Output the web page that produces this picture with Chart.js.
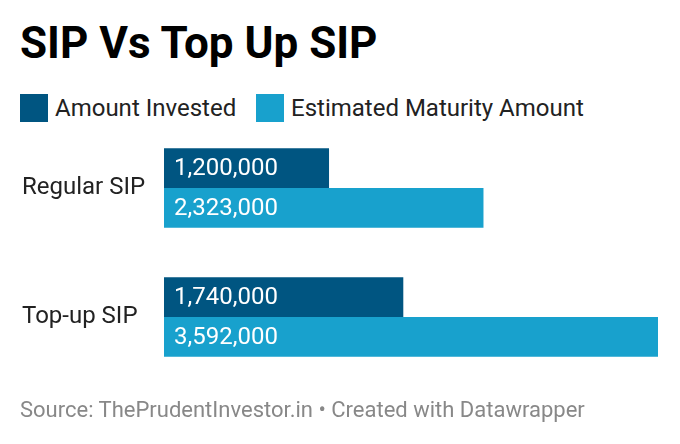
<!DOCTYPE html>
<html>
<head>
<meta charset="utf-8">
<script src="https://cdn.jsdelivr.net/npm/chart.js@4"></script>
<style>
  html, body { margin: 0; padding: 0; background: #fff; }
  body { width: 680px; height: 444px; position: relative; overflow: hidden; font-family: Roboto, sans-serif; }
  #title { position: absolute; left: 20px; top: 17px; font-size: 44px; font-weight: 700; color: #000; line-height: 52px; }
  .legend { position: absolute; top: 94px; display: flex; align-items: center; font-size: 24px; color: #222; line-height: 28px; }
  .legend span.box { width: 28px; height: 28px; display: inline-block; margin-right: 7px; }
  #footer { position: absolute; left: 20px; top: 396px; font-size: 22px; color: #888; line-height: 28px; }
  #wrap { position: absolute; left: 0; top: 106px; width: 680px; height: 293px; }
</style>
</head>
<body>
<div id="title">SIP Vs Top Up SIP</div>
<div class="legend" style="left:20px"><span class="box" style="background:#005581"></span>Amount Invested</div>
<div class="legend" style="left:256px"><span class="box" style="background:#18a1cd"></span>Estimated Maturity Amount</div>
<div id="wrap"><canvas id="chart"></canvas></div>
<div id="footer">Source: ThePrudentInvestor.in • Created with Datawrapper</div>
<script>
const categories = ['Regular SIP', 'Top-up SIP'];
const amountInvested = [1200000, 1740000];
const maturityAmount = [2323000, 3592000];
const seriesNames = ['Amount Invested', 'Estimated Maturity Amount'];
const colors = ['#005581', '#18a1cd'];

const fmt = v => v.toLocaleString('en-US');

// write the values inside the bars, left aligned
const barLabels = {
    id: 'barLabels',
    afterDatasetsDraw(chart) {
        const ctx = chart.ctx;
        ctx.save();
        ctx.fillStyle = '#fff';
        ctx.font = '24px Roboto';
        ctx.textAlign = 'left';
        ctx.textBaseline = 'middle';
        chart.data.datasets.forEach((ds, i) => {
            chart.getDatasetMeta(i).data.forEach((bar, j) => {
                ctx.fillText(fmt(ds.data[j]), bar.base + 10, bar.y + 1);
            });
        });
        ctx.restore();
    }
};

new Chart(document.getElementById('chart'), {
    type: 'bar',
    data: {
        labels: categories,
        datasets: [
            { label: seriesNames[0], data: amountInvested, backgroundColor: colors[0] },
            { label: seriesNames[1], data: maturityAmount, backgroundColor: colors[1] }
        ]
    },
    options: {
        indexAxis: 'y',
        responsive: true,
        maintainAspectRatio: false,
        animation: false,
        layout: { padding: { left: 22, right: 22, top: 0, bottom: 0 } },
        datasets: { bar: { categoryPercentage: 80 / 130, barPercentage: 1 } },
        plugins: { legend: { display: false }, tooltip: { enabled: false } },
        scales: {
            x: { display: false, min: 0, max: 3592000 },
            y: {
                grid: { display: false },
                border: { display: false },
                afterFit: scale => { scale.width = 142; },
                ticks: { crossAlign: 'far', color: '#222', font: { family: 'Roboto', size: 24 } }
            }
        }
    },
    plugins: [barLabels]
});
</script>
</body>
</html>
